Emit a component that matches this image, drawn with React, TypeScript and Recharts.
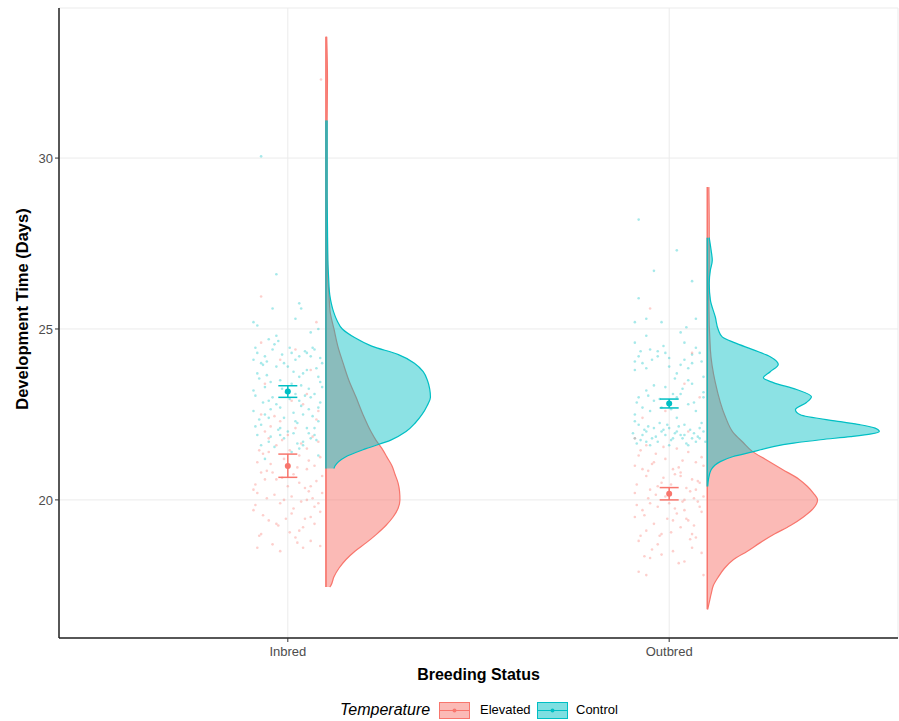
import React from "react";
import {
  ComposedChart,
  Area,
  Line,
  Scatter,
  XAxis,
  YAxis,
  CartesianGrid,
  ErrorBar,
  Label,
} from "recharts";

const RED = "#F8766D";
const TEAL = "#00BFC4";
const FONT = "'Liberation Sans', Arial, Helvetica, sans-serif";

const categories = ["Inbred", "Outbred"];
const yTicks = [20, 25, 30];

// half violins: [days, width in category units]
const inbredElevatedDensity = [
  [17.45, 0.01], [17.5, 0.013], [17.75, 0.021], [18.0, 0.034], [18.25, 0.052],
  [18.5, 0.076], [18.75, 0.106], [19.0, 0.133], [19.25, 0.157], [19.5, 0.176],
  [19.75, 0.189], [20.0, 0.194], [20.25, 0.193], [20.5, 0.189], [20.75, 0.181],
  [21.0, 0.173], [21.25, 0.16], [21.5, 0.147], [21.75, 0.131], [22.0, 0.118],
  [22.5, 0.097], [23.0, 0.079], [23.5, 0.06], [24.0, 0.045], [24.5, 0.031],
  [25.0, 0.021], [25.5, 0.011], [26.0, 0.008], [26.5, 0.005], [27.5, 0.004],
  [29.0, 0.003], [31.0, 0.003], [32.3, 0.004], [33.55, 0.002],
];
const inbredControlDensity = [
  [20.92, 0.021], [21.0, 0.024], [21.25, 0.05], [21.5, 0.105], [21.75, 0.17],
  [22.0, 0.21], [22.25, 0.234], [22.5, 0.252], [22.75, 0.265], [23.0, 0.274],
  [23.25, 0.272], [23.5, 0.266], [23.75, 0.255], [24.0, 0.232], [24.25, 0.19],
  [24.5, 0.12], [24.75, 0.075], [25.0, 0.043], [25.25, 0.029], [25.5, 0.02],
  [25.75, 0.014], [26.0, 0.01], [26.5, 0.007], [27.0, 0.005], [28.0, 0.004],
  [29.0, 0.003], [30.0, 0.003], [31.1, 0.003],
];
const outbredElevatedDensity = [
  [16.8, 0.001], [17.0, 0.005], [17.25, 0.01], [17.5, 0.016], [17.75, 0.029],
  [18.0, 0.045], [18.25, 0.068], [18.5, 0.105], [18.75, 0.139], [19.0, 0.176],
  [19.25, 0.218], [19.5, 0.252], [19.75, 0.278], [20.0, 0.289], [20.2, 0.278],
  [20.4, 0.262], [20.6, 0.241], [20.89, 0.197], [21.19, 0.152], [21.42, 0.118],
  [21.68, 0.094], [21.97, 0.068], [22.44, 0.047], [23.43, 0.021], [24.39, 0.008],
  [25.85, 0.004], [27.0, 0.005], [28.0, 0.005], [29.15, 0.004],
];
const outbredControlDensity = [
  [20.39, 0.001], [20.6, 0.003], [20.88, 0.01], [21.12, 0.034], [21.27, 0.068],
  [21.41, 0.121], [21.56, 0.173], [21.66, 0.226], [21.76, 0.297], [21.85, 0.375],
  [21.93, 0.43], [22.0, 0.451], [22.1, 0.44], [22.2, 0.4], [22.29, 0.349],
  [22.49, 0.244], [22.64, 0.231], [22.85, 0.26], [23.02, 0.273], [23.23, 0.234],
  [23.43, 0.173], [23.57, 0.147], [23.75, 0.165], [23.96, 0.186], [24.19, 0.165],
  [24.39, 0.121], [24.6, 0.071], [24.77, 0.039], [24.97, 0.029], [25.35, 0.021],
  [25.85, 0.008], [26.34, 0.005], [26.72, 0.008], [27.01, 0.013], [27.3, 0.01],
  [27.67, 0.005],
];

// raw observations: [jitter, days]
const inbredControlPoints = [
  [-0.08, 21.9], [-0.05, 22.4], [0.02, 23.1], [0.06, 24.2], [-0.02, 22.7], [0.08, 23.6],
  [-0.07, 24.0], [0.04, 21.6], [-0.03, 23.9], [0.01, 24.3], [0.07, 22.1], [-0.06, 23.3],
  [0.03, 22.9], [-0.09, 22.6], [0.05, 23.8], [-0.01, 21.8], [0.08, 22.3], [-0.04, 24.4],
  [0.0, 22.0], [0.06, 23.0], [-0.08, 23.7], [0.02, 24.1], [-0.05, 21.7], [0.09, 24.0],
  [-0.02, 23.5], [0.04, 22.5], [-0.07, 22.2], [0.07, 21.9], [-0.03, 22.8], [0.01, 23.4],
  [0.05, 24.3], [-0.06, 24.2], [0.03, 21.5], [-0.09, 23.2], [0.08, 22.7], [-0.01, 24.0],
  [0.06, 21.8], [-0.04, 23.0], [0.02, 22.3], [-0.08, 24.3], [0.04, 23.7], [-0.05, 22.9],
  [0.09, 23.3], [-0.02, 21.9], [0.07, 24.4], [-0.06, 22.5], [0.0, 23.9], [0.05, 22.1],
  [-0.07, 21.6], [0.03, 24.2], [-0.03, 24.8], [0.06, 24.9], [-0.08, 25.1], [0.02, 25.3],
  [-0.05, 24.7], [0.08, 25.0], [-0.01, 22.4], [0.04, 21.7], [-0.09, 24.1], [0.07, 23.1],
  [-0.04, 25.6], [0.03, 25.75], [0.035, 25.6], [-0.09, 25.2], [-0.03, 26.6], [-0.07, 30.05],
  [0.01, 21.4], [0.08, 21.3], [-0.06, 21.2], [0.03, 23.6], [-0.02, 22.1],
  [-0.085, 22.15], [-0.045, 23.45], [0.015, 22.55], [0.055, 23.25], [0.085, 24.15],
  [-0.015, 24.25], [-0.065, 22.85], [0.025, 21.65], [0.065, 22.45], [-0.035, 21.55],
  [0.045, 24.35], [-0.075, 23.55], [0.005, 22.95], [0.075, 23.85], [-0.055, 24.05],
  [0.035, 23.35], [-0.025, 22.05], [0.085, 22.85], [-0.085, 23.05], [0.015, 23.75],
  [-0.045, 21.85], [0.055, 22.65], [-0.005, 23.15], [0.065, 24.45], [-0.065, 23.95],
  [0.025, 22.25], [-0.035, 24.55], [0.045, 23.05], [-0.075, 22.35], [0.005, 24.45],
  [0.075, 21.75], [-0.055, 23.65], [0.035, 22.75], [-0.015, 23.25], [0.085, 23.45],
  [-0.085, 24.45], [0.055, 21.95], [-0.025, 24.65], [0.015, 21.95], [-0.045, 22.65],
];
const inbredElevatedPoints = [
  [-0.07, 20.8], [0.03, 21.3], [-0.02, 19.9], [0.06, 20.4], [-0.05, 19.4], [0.08, 21.7],
  [0.01, 20.1], [-0.08, 21.1], [0.04, 19.2], [-0.03, 20.6], [0.07, 19.8], [-0.06, 22.0],
  [0.02, 18.9], [-0.09, 20.3], [0.05, 21.5], [-0.01, 20.0], [0.09, 20.7], [-0.04, 18.7],
  [0.0, 21.9], [0.06, 19.5], [-0.07, 19.0], [0.03, 20.5], [-0.05, 21.4], [0.08, 19.9],
  [-0.02, 22.3], [0.04, 18.6], [-0.08, 20.2], [0.01, 19.6], [0.07, 21.0], [-0.03, 19.3],
  [0.05, 20.9], [-0.06, 20.6], [0.02, 22.1], [-0.09, 19.7], [0.06, 18.8], [-0.01, 21.2],
  [0.09, 20.2], [-0.04, 20.8], [0.03, 19.1], [-0.07, 22.5], [0.08, 22.6], [-0.02, 18.5],
  [0.05, 20.0], [-0.05, 21.8], [0.0, 20.4], [0.04, 22.8], [-0.08, 18.6], [0.07, 19.3],
  [-0.03, 21.6], [0.01, 22.9], [-0.06, 23.4], [0.06, 23.8], [-0.02, 24.1], [0.05, 23.1],
  [-0.07, 24.6], [0.02, 24.4], [-0.07, 25.95], [0.075, 25.2], [0.087, 32.3],
  [-0.085, 20.45], [-0.045, 21.05], [0.015, 19.75], [0.055, 20.25], [0.085, 21.25],
  [-0.015, 20.65], [-0.065, 19.55], [0.025, 20.95], [0.065, 21.85], [-0.035, 20.15],
  [0.045, 19.45], [-0.075, 21.45], [0.005, 19.05], [0.075, 20.55], [-0.055, 20.05],
  [0.035, 21.65], [-0.025, 19.25], [0.085, 19.65], [-0.085, 19.85], [0.015, 20.75],
  [-0.045, 22.15], [0.055, 21.15], [-0.005, 19.45], [0.065, 20.05], [-0.065, 21.35],
  [0.025, 18.75], [-0.035, 22.45], [0.045, 20.35], [-0.075, 18.95], [0.005, 21.45],
  [0.075, 22.35], [-0.055, 20.85], [0.035, 19.95], [-0.015, 21.75], [0.085, 18.65],
];
const outbredControlPoints = [
  [-0.09, 21.8], [-0.06, 22.0], [-0.03, 21.7], [0.0, 22.1], [0.03, 21.9], [0.06, 21.8],
  [0.09, 22.0], [-0.08, 22.2], [-0.05, 21.6], [-0.02, 22.0], [0.01, 21.8], [0.04, 22.2],
  [0.07, 21.7], [-0.07, 21.9], [-0.04, 22.1], [-0.01, 21.9], [0.02, 22.0], [0.05, 21.6],
  [0.08, 22.1], [-0.09, 22.3], [-0.06, 21.7], [0.0, 21.6], [0.04, 21.9], [0.08, 21.8],
  [-0.08, 23.0], [-0.04, 22.9], [0.01, 23.1], [0.05, 22.8], [0.09, 23.0], [-0.06, 23.2],
  [-0.02, 22.7], [0.03, 23.1], [0.07, 22.6], [-0.09, 22.5], [-0.01, 23.3], [0.06, 23.4],
  [-0.05, 22.6], [0.02, 22.4], [-0.07, 24.0], [-0.03, 24.2], [0.0, 23.9], [0.04, 24.1],
  [0.08, 24.3], [-0.09, 23.8], [-0.05, 24.4], [0.02, 23.7], [0.06, 24.0], [-0.01, 24.3],
  [0.09, 23.6], [-0.08, 24.2], [0.05, 23.5], [-0.06, 24.8], [0.03, 24.9], [-0.02, 25.2],
  [0.07, 25.3], [-0.09, 25.2], [-0.06, 25.3], [0.04, 24.6], [-0.08, 25.9], [0.06, 26.4],
  [-0.04, 26.7], [0.02, 27.3], [-0.08, 28.2],
  [-0.095, 21.95], [-0.075, 21.75], [-0.055, 22.15], [-0.035, 21.85], [-0.015, 22.05],
  [0.005, 21.75], [0.025, 22.15], [0.045, 21.65], [0.065, 21.95], [0.085, 22.25],
  [-0.085, 21.65], [-0.065, 22.05], [-0.045, 21.8], [-0.025, 22.25], [0.015, 21.95],
  [0.035, 21.8], [0.055, 22.05], [0.075, 21.85], [0.095, 21.7], [-0.005, 22.2],
  [-0.085, 22.85], [-0.055, 23.05], [-0.025, 22.95], [0.005, 22.65], [0.035, 23.25],
  [0.065, 22.85], [0.09, 23.15], [-0.07, 22.7], [-0.04, 23.35], [0.02, 23.0],
  [-0.09, 24.05], [-0.06, 23.85], [-0.03, 24.35], [0.0, 24.15], [0.03, 23.95],
  [0.06, 24.25], [0.085, 24.05], [-0.075, 24.35], [0.015, 23.55], [-0.045, 24.1],
  [0.05, 23.85], [0.07, 24.45], [-0.015, 24.5], [-0.09, 24.6], [0.045, 25.05],
];
const outbredElevatedPoints = [
  [-0.08, 21.3], [-0.04, 21.1], [0.01, 20.9], [0.05, 21.4], [0.09, 21.0], [-0.06, 20.7],
  [-0.02, 20.5], [0.03, 20.8], [0.07, 20.3], [-0.09, 20.2], [-0.05, 19.9], [-0.01, 20.1],
  [0.04, 20.0], [0.08, 19.8], [-0.07, 19.7], [-0.03, 20.4], [0.02, 19.6], [0.06, 20.6],
  [-0.09, 19.5], [-0.04, 19.3], [0.0, 19.9], [0.05, 19.4], [0.09, 20.1], [-0.06, 19.1],
  [-0.02, 19.0], [0.03, 19.2], [0.07, 18.9], [-0.08, 18.8], [-0.03, 18.7], [0.01, 18.5],
  [0.06, 18.6], [-0.05, 18.3], [0.04, 18.2], [-0.07, 20.9], [-0.01, 21.2], [0.02, 21.5],
  [0.08, 20.5], [-0.05, 20.3], [0.04, 19.7], [-0.09, 21.0], [0.06, 19.0], [-0.02, 18.4],
  [0.09, 17.8], [-0.08, 17.9], [-0.06, 17.8], [0.03, 20.7], [-0.06, 21.6], [0.01, 19.4],
  [0.07, 21.1], [-0.03, 19.8], [0.05, 22.0], [-0.07, 22.4], [0.08, 23.0], [-0.01, 22.6],
  [0.04, 23.4], [-0.09, 21.8], [0.06, 24.3], [-0.05, 25.6],
  [-0.085, 20.45], [-0.045, 21.05], [0.015, 19.75], [0.055, 20.25], [0.085, 21.25],
  [-0.015, 20.65], [-0.065, 19.55], [0.025, 20.95], [0.065, 19.25], [-0.035, 20.15],
  [0.045, 19.45], [-0.075, 21.45], [0.005, 19.05], [0.075, 20.55], [-0.055, 20.05],
  [0.035, 21.15], [-0.025, 18.95], [0.085, 19.65], [-0.085, 19.85], [0.015, 20.75],
  [-0.045, 18.55], [0.055, 18.85], [-0.005, 19.45], [0.065, 20.05], [-0.065, 18.35],
  [0.025, 18.15], [-0.035, 21.35], [0.045, 20.35], [-0.075, 18.95], [0.005, 20.45],
  [0.075, 19.95], [-0.055, 20.85], [0.035, 19.95], [-0.015, 21.55], [0.085, 18.45],
];

// mean with standard error
const summaryCategory = [1, 1, 2, 2];
const summaryColor = [TEAL, RED, TEAL, RED];
const summaryMean = [23.17, 20.99, 22.82, 20.18];
const summaryLow = [23.0, 20.66, 22.69, 20.0];
const summaryHigh = [23.34, 21.34, 22.95, 20.36];

const NUDGE = 0.1;

const violins = [
  { key: "inE", cat: 1, color: RED, opacity: 0.5, density: inbredElevatedDensity },
  { key: "inC", cat: 1, color: TEAL, opacity: 0.45, density: inbredControlDensity },
  { key: "outE", cat: 2, color: RED, opacity: 0.5, density: outbredElevatedDensity },
  { key: "outC", cat: 2, color: TEAL, opacity: 0.45, density: outbredControlDensity },
];

const allDays = Array.from(
  new Set(violins.flatMap((vl) => vl.density.map((d) => d[0])))
).sort((a, b) => a - b);

const violinRows = allDays.map((v) => {
  const row: any = { v };
  violins.forEach((vl) => {
    const hit = vl.density.find((d) => d[0] === v);
    const base = vl.cat + NUDGE;
    row[vl.key] = hit ? [base, base + hit[1]] : [null, null];
    row[vl.key + "Edge"] = hit ? base : null;
  });
  return row;
});

const pointGroups = [
  { cat: 1, color: TEAL, pts: inbredControlPoints },
  { cat: 1, color: RED, pts: inbredElevatedPoints },
  { cat: 2, color: TEAL, pts: outbredControlPoints },
  { cat: 2, color: RED, pts: outbredElevatedPoints },
];

const dot = (color: string, r: number, opacity: number) => (props: any) =>
  props.cx == null ? <g /> : (
    <circle cx={props.cx} cy={props.cy} r={r} fill={color} fillOpacity={opacity} />
  );

function LegendKey({ color }: { color: string }) {
  return (
    <svg width={31} height={17} style={{ display: "block" }}>
      <rect x={0.5} y={0.5} width={30} height={16} fill={color} fillOpacity={0.5} stroke={color} strokeWidth={1} />
      <line x1={1} x2={30} y1={8.5} y2={8.5} stroke={color} strokeWidth={1} />
      <circle cx={15.5} cy={8.5} r={2} fill={color} />
    </svg>
  );
}

export default function App() {
  return (
    <div style={{ position: "absolute", left: 0, top: 0, width: 899, height: 721, background: "#fff", fontFamily: FONT }}>
      <ComposedChart
        width={899}
        height={721}
        layout="vertical"
        data={violinRows}
        margin={{ top: 8, right: 1, bottom: 33, left: 0 }}
      >
        <CartesianGrid stroke="#EBEBEB" strokeWidth={1} />
        <XAxis
          type="number"
          dataKey="x"
          domain={[0.4, 2.6]}
          ticks={[1, 2]}
          interval={0}
          allowDataOverflow
          tickFormatter={(t: number) => categories[t - 1]}
          axisLine={{ stroke: "#222", strokeWidth: 1.5 }}
          tickLine={{ stroke: "#333" }}
          tickSize={4}
          tickMargin={5}
          tick={{ fill: "#4D4D4D", fontSize: 13, fontFamily: FONT }}
          height={50}
        >
          <Label value="Breeding Status" position="center" dy={11} fontSize={16} fontWeight="bold" fill="#000" fontFamily={FONT} />
        </XAxis>
        <YAxis
          type="number"
          dataKey="v"
          domain={[15.96, 34.39]}
          ticks={yTicks}
          interval={0}
          reversed
          allowDataOverflow
          width={59}
          axisLine={{ stroke: "#222", strokeWidth: 1.5 }}
          tickLine={{ stroke: "#333" }}
          tickSize={4}
          tickMargin={2}
          tick={{ fill: "#4D4D4D", fontSize: 13, fontFamily: FONT }}
        >
          <Label
            content={() => (
              <text
                x={22}
                y={309}
                transform="rotate(-90 22 309)"
                textAnchor="middle"
                dominantBaseline="central"
                fontSize={16.5}
                fontWeight="bold"
                fontFamily={FONT}
                fill="#000"
              >
                Development Time (Days)
              </text>
            )}
          />
        </YAxis>

        {violins.flatMap((vl) => [
          <Area
            key={vl.key}
            dataKey={vl.key}
            type="monotone"
            stroke={vl.color}
            strokeWidth={1.2}
            fill={vl.color}
            fillOpacity={vl.opacity}
            connectNulls
            dot={false}
            activeDot={false}
            isAnimationActive={false}
          />,
          <Line
            key={vl.key + "Edge"}
            dataKey={vl.key + "Edge"}
            type="linear"
            stroke={vl.color}
            strokeWidth={1.2}
            connectNulls
            dot={false}
            activeDot={false}
            isAnimationActive={false}
          />,
        ])}

        {pointGroups.map((g, i) => (
          <Scatter
            key={"pts" + i}
            data={g.pts.map(([dx, v]) => ({ x: g.cat + dx, v }))}
            shape={dot(g.color, 1.3, 0.35)}
            isAnimationActive={false}
          />
        ))}

        {summaryMean.map((m, i) => (
          <Scatter
            key={"mean" + i}
            data={[{ x: summaryCategory[i], v: m, err: [m - summaryLow[i], summaryHigh[i] - m] }]}
            shape={dot(summaryColor[i], 3, 1)}
            isAnimationActive={false}
          >
            <ErrorBar dataKey="err" direction="y" width={9.5} stroke={summaryColor[i]} strokeWidth={1.5} />
          </Scatter>
        ))}
      </ComposedChart>

      <div style={{ position: "absolute", left: 340, top: 700, fontSize: 16, fontStyle: "italic", color: "#000", lineHeight: "20px" }}>
        Temperature
      </div>
      <div style={{ position: "absolute", left: 439, top: 702 }}>
        <LegendKey color={RED} />
      </div>
      <div style={{ position: "absolute", left: 480, top: 701, fontSize: 13, color: "#000", lineHeight: "18px" }}>
        Elevated
      </div>
      <div style={{ position: "absolute", left: 537, top: 702 }}>
        <LegendKey color={TEAL} />
      </div>
      <div style={{ position: "absolute", left: 576, top: 701, fontSize: 13, color: "#000", lineHeight: "18px" }}>
        Control
      </div>
    </div>
  );
}
